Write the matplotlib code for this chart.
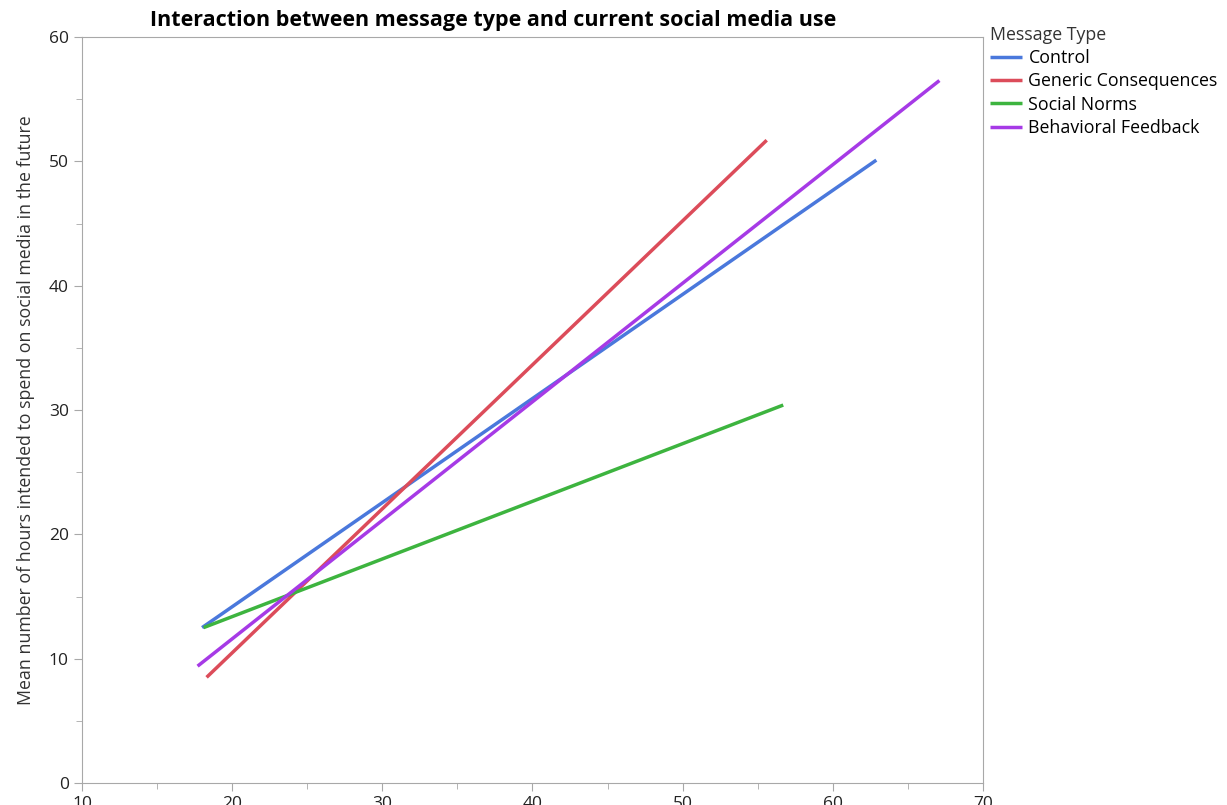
import matplotlib.pyplot as plt
from matplotlib.ticker import MultipleLocator

# fitted lines: (x start, x end), (y start, y end)
groups = ["Control", "Generic Consequences", "Social Norms", "Behavioral Feedback"]
x_start = [18.0, 18.3, 18.1, 17.7]
x_end = [62.9, 55.6, 56.7, 67.1]
y_start = [12.5, 8.5, 12.5, 9.4]
y_end = [50.1, 51.7, 30.4, 56.5]
colors = ["#4a78dc", "#dc4c5a", "#3db43f", "#a63ae6"]

plt.rcParams['font.family'] = ['Open Sans', 'DejaVu Sans']

fig = plt.figure(figsize=(12.27, 8.05), dpi=100)
ax = fig.add_axes([0.0668, 0.0273, 0.7343, 0.9267])

for name, xs, xe, ys, ye, c in zip(groups, x_start, x_end, y_start, y_end, colors):
    ax.plot([xs, xe], [ys, ye], color=c, lw=2.5, label=name, solid_capstyle='butt')

ax.set_xlim(10, 70)
ax.set_ylim(0, 60)
ax.xaxis.set_major_locator(MultipleLocator(10))
ax.xaxis.set_minor_locator(MultipleLocator(5))
ax.yaxis.set_major_locator(MultipleLocator(10))
ax.yaxis.set_minor_locator(MultipleLocator(5))

for s in ax.spines.values():
    s.set_color("#a8a8a8")
ax.tick_params(which='major', length=6, color="#a8a8a8", labelsize=12.5, labelcolor="#222222")
ax.tick_params(which='minor', length=4, color="#a8a8a8")
ax.tick_params(axis='x', pad=3)

fig.text(0.402, 0.975, "Interaction between message type and current social media use",
         fontsize=15.5, fontweight='bold', ha='center', va='center')
ax.set_ylabel("Mean number of hours intended to spend on social media in the future",
              fontsize=12.8, color="#333333", labelpad=10)

leg = fig.legend(loc='upper left', bbox_to_anchor=(0.794, 0.988), frameon=False,
                 title="Message Type", fontsize=12.8, title_fontsize=12.8,
                 handlelength=1.8, handletextpad=0.35, labelspacing=0.3,
                 alignment='left')
leg.get_title().set_color("#333333")

fig.savefig("out.png", dpi=100)
